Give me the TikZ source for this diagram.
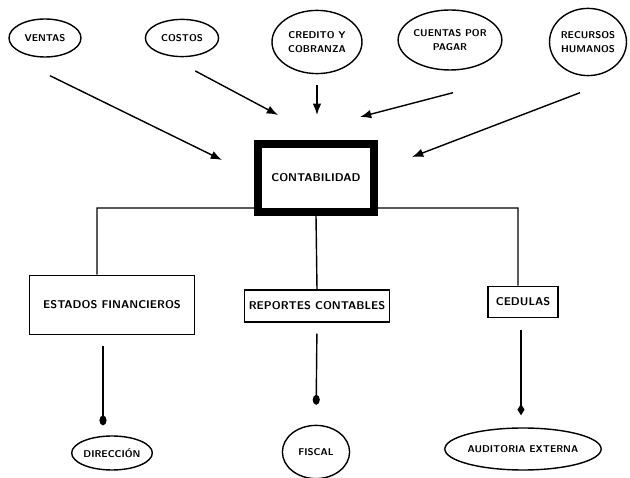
\documentclass[tikz,border=0pt]{standalone}
\usepackage{tikz}
\usetikzlibrary{arrows.meta,shapes.geometric}
\tikzset{>=latex}
\tikzset{
	area/.style={draw, ellipse, line width=1pt, align=center, inner sep=0pt, font=\sffamily\bfseries\scriptsize},
	salida/.style={draw, line width=1pt, fill=white, align=center, inner sep=0pt, font=\sffamily\bfseries\footnotesize},
	flecha/.style={line width=1pt, -{Latex[length=8pt,width=6pt]}},
	punto/.style={line width=1pt, -{Ellipse[length=7pt,width=5pt]}},
	rombo/.style={line width=1pt, -{Diamond[length=8pt,width=5pt]}}
}

\begin{document}
\begin{tikzpicture}
		\useasboundingbox (0,0) rectangle (15.75,11.95);
		% areas que alimentan
		\node[area, minimum width=1.8cm, minimum height=0.95cm] (ventas) at (1.125,11.0) {VENTAS};
		\node[area, minimum width=1.83cm, minimum height=0.93cm] (costos) at (4.55,11.0) {COSTOS};
		\node[area, minimum width=2.25cm, minimum height=1.58cm] (credito) at (7.925,10.9) {CREDITO Y\\[2pt] COBRANZA};
		\node[area, minimum width=2.25cm, minimum height=1.5cm] (cuentas) at (11.25,10.95) {CUENTAS POR\\[2pt] PAGAR};
		\node[area, minimum width=1.88cm, minimum height=1.68cm] (recursos) at (14.7,10.9) {RECURSOS\\[2pt] HUMANOS};
		% puntas de las flechas
		\coordinate (t1) at (5.55,7.95);
		\coordinate (t2) at (6.95,9.075);
		\coordinate (t3) at (7.925,9.075);
		\coordinate (t4) at (9.0,9.025);
		\coordinate (t5) at (10.3,8.025);
		\draw[flecha] ([shift={(0.125,-0.45)}]ventas.south) -- (t1);
		\draw[flecha] ([shift={(0.33,-0.34)}]costos.south) -- (t2);
		\draw[flecha] ([shift={(0,-0.28)}]credito.south) -- (t3);
		\draw[flecha] ([shift={(0.075,-0.55)}]cuentas.south) -- (t4);
		\draw[flecha] ([shift={(-0.2,-0.41)}]recursos.south) -- (t5);
		% reportes
		\node[salida, minimum width=4.13cm, minimum height=1.48cm] (estados) at (2.8,4.325) {ESTADOS FINANCIEROS};
		\node[salida, minimum width=3.63cm, minimum height=0.8cm] (reportes) at (7.925,4.3) {REPORTES CONTABLES};
		\node[salida, minimum width=1.75cm, minimum height=0.78cm] (cedulas) at (13.075,4.4) {CEDULAS};
		\coordinate (busL) at (2.425,6.75);
		\coordinate (busR) at (12.95,6.75);
		\draw[line width=1pt] ([xshift=-0.375cm]estados.north) -- (busL) -- (busR) -- ([xshift=-0.125cm]cedulas.north);
		\node[salida, line width=5pt, minimum width=2.9cm, minimum height=1.7cm] (contab) at (7.9,7.5) {CONTABILIDAD};
		\draw[line width=1pt] (contab.south) -- (reportes.north);
		% destinos
		\node[area, minimum width=2.0cm, minimum height=0.85cm] (direccion) at (2.8,0.625) {DIRECCIÓN};
		\node[area, minimum width=1.68cm, minimum height=1.33cm] (fiscal) at (7.9,0.65) {FISCAL};
		\node[area, minimum width=3.83cm, minimum height=1.05cm] (auditoria) at (13.075,0.725) {AUDITORIA EXTERNA};
		\draw[punto, shorten <=0.27cm, shorten >=0.25cm] ([xshift=-0.225cm]estados.south) -- ([xshift=-0.225cm]direccion.north);
		\draw[punto, shorten <=0.275cm, shorten >=0.5cm] (reportes.south) -- (fiscal.north);
		\draw[rombo, shorten <=0.3cm, shorten >=0.3cm] ([xshift=-0.05cm]cedulas.south) -- ([xshift=-0.05cm]auditoria.north);
	\end{tikzpicture}
\end{document}
